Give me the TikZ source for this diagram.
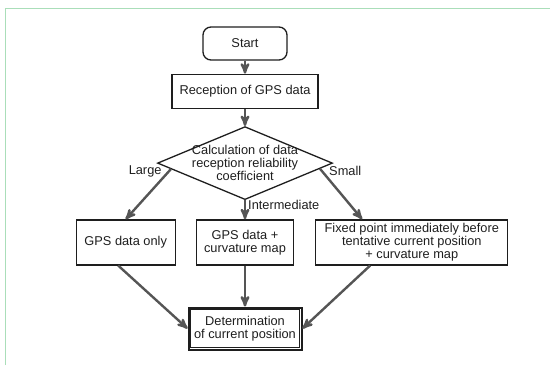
\documentclass[tikz,border=0pt]{standalone}
\usepackage{fontspec}
\setmainfont{Liberation Sans}
\usetikzlibrary{arrows,positioning,calc,shapes.geometric}

\definecolor{flowline}{RGB}{85,85,85}
\definecolor{framegreen}{RGB}{170,222,185}
\definecolor{ink}{RGB}{30,30,30}

\begin{document}
\begin{tikzpicture}[x=1pt, y=-1pt, ->, >=stealth', semithick, font=\fontsize{12.8}{13}\selectfont]
        \tikzstyle{box}=[draw=ink, text=ink, line width=1.3pt, rectangle, align=center, minimum height=45pt, inner xsep=1.5pt, inner ysep=0pt]
        \tikzstyle{flow}=[every edge/.append style={draw=flowline, line width=2.4pt}]
        \tikzstyle{lbl}=[text=ink, inner sep=1pt]

        \useasboundingbox (0,0) rectangle (550,365);
        \draw[-, framegreen, line width=1pt] (5,365) -- (5,8) -- (550,8);

        \node[box, rounded corners=8pt, minimum width=84pt, minimum height=33pt] (start) at (245,43.5) {Start};
        \node[box, minimum width=146pt, minimum height=34pt, below=13pt of start] (recv) {Reception of GPS data};
        \node[draw=ink, text=ink, line width=1.3pt, diamond, shape aspect=2.4, minimum width=175pt, minimum height=73pt,
              inner xsep=-20pt, inner ysep=-6pt, align=center, below=17pt of recv] (calc)
              {Calculation of data\\reception reliability\\coefficient};
        \node[box, minimum width=97pt, below=19pt of calc] (mid) {GPS data +\\curvature map};
        \node[box, minimum width=99pt, left=20pt of mid] (gpsonly) {GPS data only};
        \node[box, minimum width=192pt, right=21pt of mid] (fixed)
              {Fixed point immediately before\\tentative current position\\+ curvature map};
        \node[box, minimum width=113pt, minimum height=42pt, line width=2pt, below=41pt of mid] (result)
              {Determination\\of current position};
        % inner line of the double frame
        \draw[-, ink, line width=0.8pt] ([shift={(3pt,-3pt)}]result.north west) rectangle ([shift={(-3pt,3pt)}]result.south east);

        \path[flow]

        (start) edge (recv)
        (recv) edge (calc)

        (calc)
        edge node[lbl, pos=0.25, right=1pt]{Intermediate} (mid)
        ($(calc.west)!0.16!(calc.south)$)
        edge node[lbl, pos=0.05, left=5pt]{Large} (gpsonly.north)
        ($(calc.east)!0.15!(calc.south)$)
        edge node[lbl, pos=0.05, right=5pt]{Small} ([xshift=47pt]fixed.north west)

        ([xshift=-7.5pt]gpsonly.south) edge (result.west)
        (mid) edge (result)
        ([xshift=55pt]fixed.south west) edge (result.east);
    \end{tikzpicture}
\end{document}
